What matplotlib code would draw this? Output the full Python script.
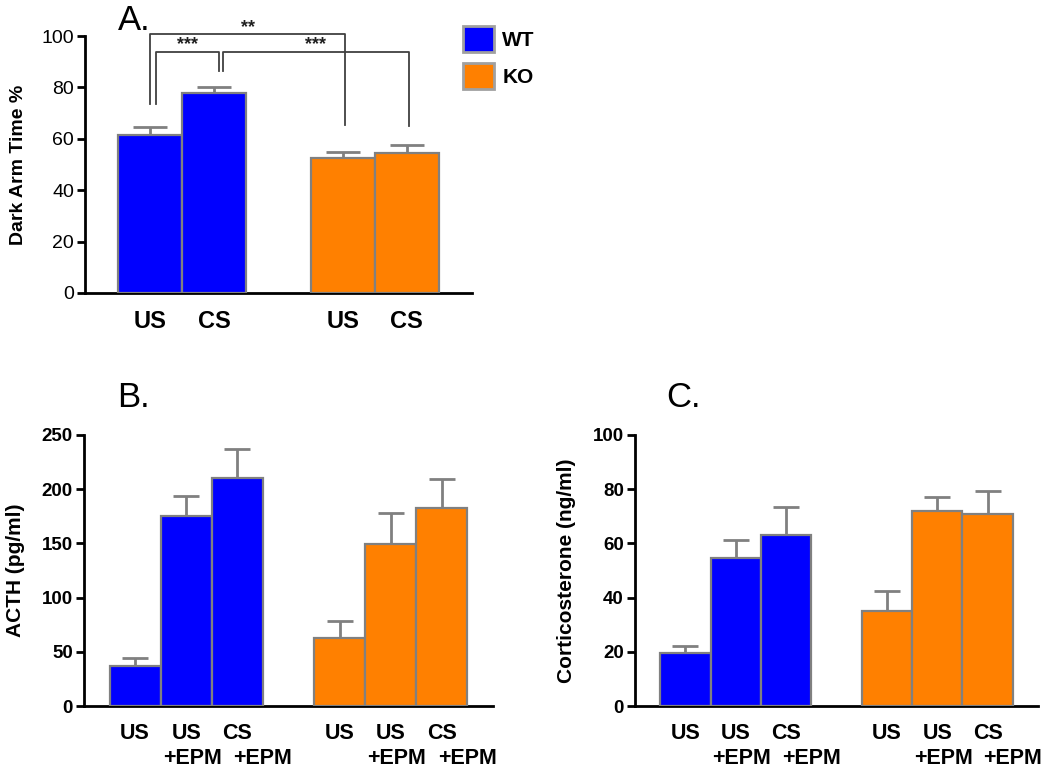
import numpy as np
import matplotlib
matplotlib.use("Agg")
import matplotlib.pyplot as plt
from matplotlib.patches import Patch

plt.rcParams['font.family'] = ['Liberation Sans', 'DejaVu Sans']

# panel A data
a_groups = ["WT", "WT", "KO", "KO"]
a_labels = ["US", "CS", "US", "CS"]
a_pos = [0, 1, 3, 4]
a_vals = [61.5, 78.0, 52.5, 54.3]
a_err = [3.0, 2.0, 2.3, 3.5]

# panel B data (ACTH)
bc_pos = [0, 1, 2, 4, 5, 6]
bc_groups = ["WT", "WT", "WT", "KO", "KO", "KO"]
bc_top = ["US", "US", "CS", "US", "US", "CS"]
bc_bottom = ["", "+EPM", "+EPM", "", "+EPM", "+EPM"]
b_vals = [37, 175, 210, 63, 149, 183]
b_err = [7.5, 19, 27, 15, 29, 26]

# panel C data (corticosterone)
c_vals = [19.5, 54.5, 63.0, 35.0, 72.0, 71.0]
c_err = [2.5, 6.8, 10.5, 7.5, 5.0, 8.5]

colors = {"WT": "#0000FF", "KO": "#FF8000"}
edge = "#808080"

fig = plt.figure(figsize=(10.5, 7.68), dpi=100)


def style_axis(ax, bold_ticks=True, fs=13):
    for s in ["top", "right"]:
        ax.spines[s].set_visible(False)
    for s in ["left", "bottom"]:
        ax.spines[s].set_linewidth(2)
    ax.tick_params(axis='y', direction='out', length=6, width=2, labelsize=fs, pad=2)
    ax.tick_params(axis='x', length=0)
    if bold_ticks:
        for t in ax.get_yticklabels():
            t.set_fontweight('bold')


def draw_bars(ax, pos, vals, errs, groups, cap):
    cols = [colors[g] for g in groups]
    ax.bar(pos, vals, width=1.0, color=cols, edgecolor=edge, linewidth=1.6, zorder=3)
    ax.errorbar(pos, vals, yerr=[np.zeros(len(errs)), errs], fmt='none',
                ecolor=edge, elinewidth=2, capsize=cap, capthick=2, zorder=2)


# ---- Panel A
axA = fig.add_axes([0.081, 0.6185, 0.3685, 0.3345])
draw_bars(axA, a_pos, a_vals, a_err, a_groups, 12.5)
axA.set_xlim(-1.02, 5.02)
axA.set_ylim(0, 100)
axA.set_yticks([0, 20, 40, 60, 80, 100])
style_axis(axA, bold_ticks=False, fs=14)
axA.set_xticks(a_pos)
axA.set_xticklabels(a_labels, fontsize=17, fontweight='bold')
axA.tick_params(axis='x', pad=12)
axA.set_ylabel("Dark Arm Time %", fontsize=14, fontweight='bold', labelpad=10)

# significance brackets
brackets = [
    (0.0, 3.04, 100.7, 73.5, 65.4, "**", 103.5),
    (0.09, 1.07, 93.7, 73.5, 86.5, "***", 96.5),
    (1.13, 4.04, 93.7, 86.5, 65.0, "***", 96.5),
]
for x1, x2, ytop, y1, y2, txt, ty in brackets:
    axA.plot([x1, x1, x2, x2], [y1, ytop, ytop, y2], color="#404040",
             lw=1.3, clip_on=False, zorder=4)
    axA.text((x1 + x2) / 2, ty, txt, ha='center', va='center', fontsize=13,
             fontweight='bold', color="#202020", clip_on=False)

fig.text(0.112, 0.973, "A.", fontsize=25, va='center', ha='left')

handles = [Patch(facecolor=colors["WT"], edgecolor="#a0a0a0", linewidth=2),
           Patch(facecolor=colors["KO"], edgecolor="#a0a0a0", linewidth=2)]
fig.legend(handles, ["WT", "KO"], loc='upper left', bbox_to_anchor=(0.423, 0.99),
           frameon=False, handlelength=1.5, handleheight=1.5, labelspacing=0.55,
           handletextpad=0.4, prop={'weight': 'bold', 'size': 15})


def lower_panel(ax, vals, errs, ymax, step, ylabel, cap):
    draw_bars(ax, bc_pos, vals, errs, bc_groups, cap)
    ax.set_xlim(-1.0, 7.0)
    ax.set_ylim(0, ymax)
    ax.set_yticks(np.arange(0, ymax + 1, step))
    style_axis(ax, bold_ticks=True, fs=13.5)
    ax.set_xticks(bc_pos)
    ax.set_xticklabels(bc_top, fontsize=15.5, fontweight='bold')
    ax.tick_params(axis='x', pad=12)
    offs = [0, 0.12, 0.5]
    for i, (p, lab) in enumerate(zip(bc_pos, bc_bottom)):
        if lab:
            ax.text(p + offs[i % 3], -0.193, lab, transform=ax.get_xaxis_transform(),
                    ha='center', va='center', fontsize=15.5, fontweight='bold')
    ax.set_ylabel(ylabel, fontsize=15, fontweight='bold', labelpad=12)


# ---- Panel B
axB = fig.add_axes([0.08, 0.0807, 0.3895, 0.3529])
lower_panel(axB, b_vals, b_err, 250, 50, "ACTH (pg/ml)", 9.5)
fig.text(0.112, 0.482, "B.", fontsize=25, va='center', ha='left')

# ---- Panel C
axC = fig.add_axes([0.6048, 0.0807, 0.3838, 0.3529])
lower_panel(axC, c_vals, c_err, 100, 20, "Corticosterone (ng/ml)", 9.5)
fig.text(0.635, 0.482, "C.", fontsize=25, va='center', ha='left')

fig.savefig("out.png", dpi=100)
